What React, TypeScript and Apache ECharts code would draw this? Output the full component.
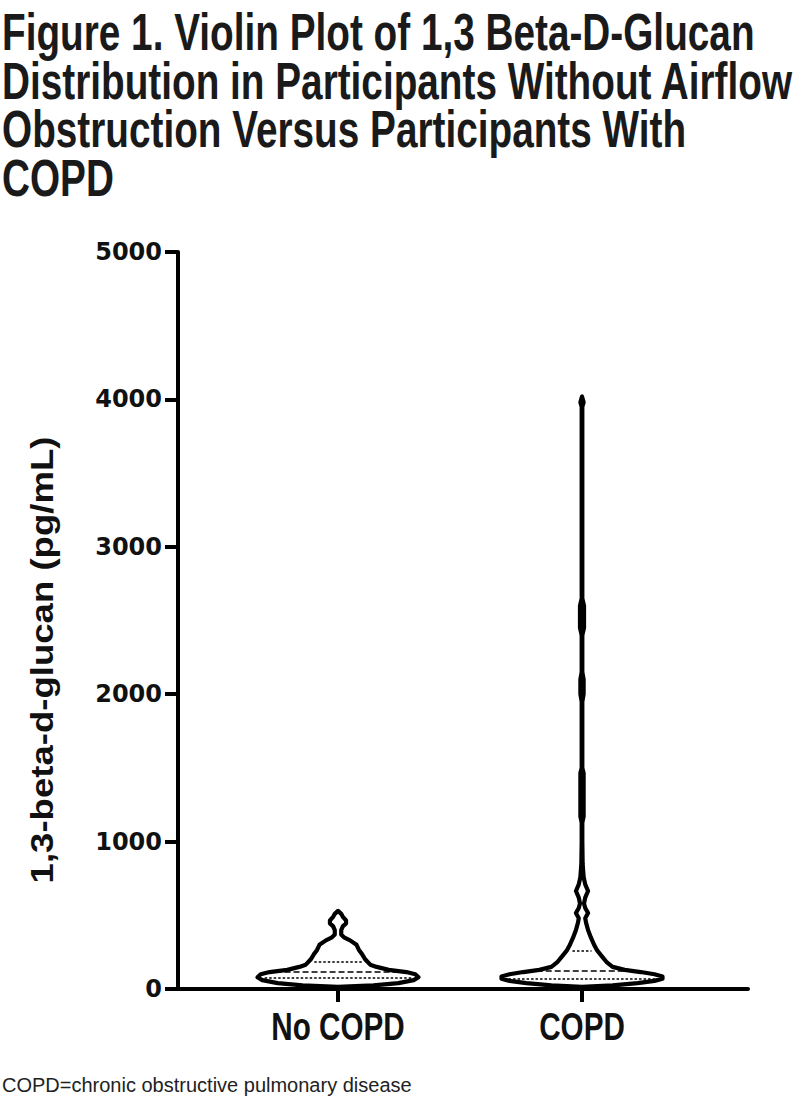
import React, { useEffect, useRef } from 'react';
import * as echarts from 'echarts';

// ---------- data ----------
const categories = ['No COPD', 'COPD'];
const categoryPositions = [1, 2];

// violin profiles: y value (pg/mL) and relative density (0..1)
const noCopdValues = [15, 25, 40, 60, 80, 100, 115, 130, 150, 165, 200, 235, 265, 300, 330, 350, 370, 400, 425, 445, 465, 490, 510, 530];
const noCopdDensity = [0, 0.44, 0.75, 0.94, 1, 0.96, 0.85, 0.63, 0.48, 0.4, 0.34, 0.3, 0.26, 0.23, 0.15, 0.075, 0.04, 0.04, 0.06, 0.1, 0.1, 0.06, 0.04, 0];

const copdValues = [15, 25, 40, 55, 70, 85, 100, 115, 130, 150, 180, 220, 260, 300, 350, 400, 450, 480, 515, 550, 580, 620, 665, 710, 760, 850, 1000, 1130, 1170, 1215, 1240, 1350, 1465, 1500, 1950, 2000, 2100, 2150, 2400, 2450, 2600, 2650, 3950, 3980, 4020];
const copdDensity = [0, 0.38, 0.69, 0.9, 1, 1, 0.9, 0.73, 0.53, 0.38, 0.31, 0.25, 0.19, 0.15, 0.11, 0.075, 0.05, 0.04, 0.075, 0.04, 0.025, 0.04, 0.075, 0.04, 0.02, 0.008, 0.004, 0.004, 0.02, 0.02, 0.02, 0.02, 0.02, 0.004, 0.004, 0.02, 0.02, 0.004, 0.004, 0.025, 0.025, 0.004, 0.004, 0.02, 0];

// quartiles: Q1, median, Q3
const noCopdQuartiles = [75, 115, 183];
const copdQuartiles = [68, 122, 258];

const yMin = 0;
const yMax = 5000;
const yInterval = 1000;

const titleLines = [
  'Figure 1. Violin Plot of 1,3 Beta-D-Glucan',
  'Distribution in Participants Without Airflow',
  'Obstruction Versus Participants With',
  'COPD',
];
const yAxisTitle = '1,3-beta-d-glucan (pg/mL)';
const footnote = 'COPD=chronic obstructive pulmonary disease';

// ---------- chart ----------
const profiles = [
  { values: noCopdValues, density: noCopdDensity, quartiles: noCopdQuartiles },
  { values: copdValues, density: copdDensity, quartiles: copdQuartiles },
];

const HALF_WIDTH = 0.33; // x-axis units at density 1
const FONT = '"Liberation Sans", Arial, sans-serif';

function interp(values: number[], dens: number[], v: number) {
  if (v <= values[0]) return dens[0];
  for (let i = 1; i < values.length; i++) {
    if (v <= values[i]) {
      const t = (v - values[i - 1]) / (values[i] - values[i - 1]);
      return dens[i - 1] + t * (dens[i] - dens[i - 1]);
    }
  }
  return dens[dens.length - 1];
}

export default function App() {
  const ref = useRef<HTMLDivElement>(null);
  useEffect(() => {
    if (!ref.current) return;
    const chart = echarts.init(ref.current, null, { renderer: 'svg' });
    const option: any = {
      animation: false,
      backgroundColor: '#fff',
      grid: { left: 178, top: 252, right: 52, bottom: 126, containLabel: false },
      xAxis: {
        type: 'value',
        min: 0.3443,
        max: 2.6803,
        splitLine: { show: false },
        axisLine: { show: true, onZero: false, lineStyle: { color: '#000', width: 4 } },
        axisTick: { show: true, customValues: categoryPositions, length: 13, lineStyle: { color: '#000', width: 4 } },
        axisLabel: { show: false },
      },
      yAxis: {
        type: 'value',
        min: yMin,
        max: yMax,
        interval: yInterval,
        splitLine: { show: false },
        axisLine: { show: true, lineStyle: { color: '#000', width: 4 } },
        axisTick: { show: true, length: 13, lineStyle: { color: '#000', width: 4 } },
        axisLabel: {
          margin: 16,
          color: '#111',
          formatter: (v: number) => String(v),
          fontFamily: '"DejaVu Sans", sans-serif',
          fontWeight: 'bold',
          fontSize: 24,
        },
      },
      series: [
        {
          type: 'custom',
          coordinateSystem: 'cartesian2d',
          data: categoryPositions.map((p, i) => [p, i]),
          clip: false,
          renderItem: (params: any, api: any) => {
            const idx = params.dataIndex;
            const prof = profiles[idx];
            const xc = api.value(0);
            const right: number[][] = [];
            const left: number[][] = [];
            for (let i = 0; i < prof.values.length; i++) {
              const hw = prof.density[i] * HALF_WIDTH;
              right.push(api.coord([xc + hw, prof.values[i]]));
              left.push(api.coord([xc - hw, prof.values[i]]));
            }
            const points = right.concat(left.reverse());
            const pxPerUnit = api.size([1, 0])[0];
            const children: any[] = [
              {
                type: 'polygon',
                shape: { points },
                style: { fill: '#fff', stroke: '#000', lineWidth: 4.2, lineJoin: 'round' },
              },
            ];
            prof.quartiles.forEach((q: number, qi: number) => {
              const d = interp(prof.values, prof.density, q);
              const half = Math.max(0, d * HALF_WIDTH * pxPerUnit - 6);
              const c = api.coord([xc, q]);
              children.push({
                type: 'line',
                shape: { x1: c[0] - half, y1: c[1], x2: c[0] + half, y2: c[1] },
                style: {
                  stroke: '#000',
                  lineWidth: 1.6,
                  lineDash: qi === 1 ? [6, 3] : [2.5, 2],
                },
              });
            });
            // category label under the axis
            const base = api.coord([xc, yMin]);
            children.push({
              type: 'text',
              x: base[0],
              y: base[1] + 38,
              scaleX: 0.78,
              style: {
                text: categories[idx],
                fontFamily: FONT,
                fontWeight: 'bold',
                fontSize: 38,
                fill: '#111',
                align: 'center',
                verticalAlign: 'middle',
              },
            });
            return { type: 'group', children };
          },
        },
      ],
      graphic: [
        ...titleLines.map((t, i) => ({
          type: 'text',
          x: 2,
          y: 32 + i * 48.5,
          scaleX: 0.745,
          style: {
            text: t,
            fontFamily: FONT,
            fontWeight: 'bold',
            fontSize: 52,
            fill: '#1a1a1a',
            verticalAlign: 'middle',
            align: 'left',
          },
        })),
        {
          type: 'text',
          x: 42,
          y: 660,
          rotation: Math.PI / 2,
          scaleX: 1.18,
          style: {
            text: yAxisTitle,
            fontFamily: FONT,
            fontWeight: 'bold',
            fontSize: 31,
            fill: '#111',
            align: 'center',
            verticalAlign: 'middle',
          },
        },
        {
          type: 'text',
          x: 2,
          y: 1085,
          style: {
            text: footnote,
            fontFamily: FONT,
            fontSize: 20,
            fill: '#222',
            align: 'left',
            verticalAlign: 'middle',
          },
        },
      ],
    };
    chart.setOption(option);
    return () => chart.dispose();
  }, []);
  return (
    <div
      ref={ref}
      style={{ position: 'fixed', left: 0, top: 0, width: 800, height: 1115, background: '#fff' }}
    />
  );
}
